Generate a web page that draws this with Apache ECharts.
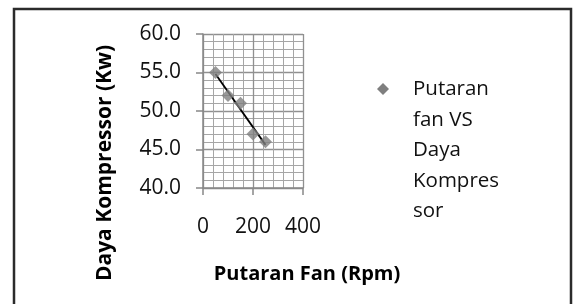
<!DOCTYPE html>
<html>
<head>
<meta charset="utf-8">
<script src="https://cdn.jsdelivr.net/npm/echarts@6/dist/echarts.min.js"></script>
<style>
  html, body { margin: 0; padding: 0; background: #fff; }
  #chart { width: 573px; height: 304px; }
</style>
</head>
<body>
<div id="chart"></div>
<script>
var rpm = [50, 100, 150, 200, 250];
var daya = [55, 52, 51, 47, 46];
var seriesName = 'Putaran\nfan VS\nDaya\nKompres\nsor';

// linear trendline (least squares) from the data
var n = rpm.length, sx = 0, sy = 0, sxy = 0, sxx = 0;
for (var i = 0; i < n; i++) {
    sx += rpm[i]; sy += daya[i]; sxy += rpm[i] * daya[i]; sxx += rpm[i] * rpm[i];
}
var slope = (n * sxy - sx * sy) / (n * sxx - sx * sx);
var icpt = (sy - slope * sx) / n;
var xFirst = rpm[0], xLast = rpm[n - 1];
var trend = [[xFirst, icpt + slope * xFirst], [xLast, icpt + slope * xLast]];

var pts = rpm.map(function (x, k) { return [x, daya[k]]; });

var chart = echarts.init(document.getElementById('chart'));
var option = {
    animation: false,
    textStyle: { fontFamily: 'Open Sans', color: '#000' },
    graphic: [
        {
            type: 'rect',
            shape: { x: 14, y: 9, width: 557, height: 310 },
            style: { fill: 'none', stroke: '#2b2b2b', lineWidth: 2.5 },
            silent: true
        },
        {
            type: 'text',
            x: 413, y: 74,
            style: { text: seriesName, font: '20.5px "Open Sans"', fill: '#111', lineHeight: 30.5 }
        },
        {
            type: 'polygon',
            shape: { points: [[383, 83], [389, 89], [383, 95], [377, 89]] },
            style: { fill: '#7f7f7f' }
        }
    ],
    grid: { left: 203, top: 34, width: 100, height: 154, outerBoundsMode: 'none', containLabel: false },
    xAxis: {
        type: 'value',
        min: 0, max: 400, interval: 200,
        name: 'Putaran Fan (Rpm)',
        nameLocation: 'middle',
        nameGap: 76,
        nameTextStyle: { fontSize: 20, fontWeight: 'bold', color: '#000', padding: [0, 0, 0, 108] },
        axisLine: { show: true, onZero: false, lineStyle: { color: '#888', width: 1.5 } },
        axisTick: { show: true, length: 7, inside: false, lineStyle: { color: '#888', width: 1.5 } },
        axisLabel: { fontSize: 21, color: '#111', margin: 29 },
        splitLine: { show: true, lineStyle: { color: '#909090', width: 1.3 } },
        minorTick: { show: false, splitNumber: 5 },
        minorSplitLine: { show: true, lineStyle: { color: '#a6a6a6', width: 1 } }
    },
    yAxis: {
        type: 'value',
        min: 40, max: 60, interval: 5,
        name: 'Daya Kompressor (Kw)',
        nameLocation: 'middle',
        nameGap: 87,
        nameTextStyle: { fontSize: 21, fontWeight: 'bold', color: '#000', padding: [0, 104, 0, 0] },
        axisLine: { show: true, onZero: false, lineStyle: { color: '#888', width: 1.5 } },
        axisTick: { show: true, length: 7, inside: false, lineStyle: { color: '#888', width: 1.5 } },
        axisLabel: { fontSize: 21, color: '#111', margin: 22, formatter: function (v) { return v.toFixed(1); } },
        splitLine: { show: true, lineStyle: { color: '#909090', width: 1.3 } },
        minorTick: { show: false, splitNumber: 5 },
        minorSplitLine: { show: true, lineStyle: { color: '#a6a6a6', width: 1 } }
    },
    series: [
        {
            name: 'trend',
            type: 'line',
            data: trend,
            symbol: 'none',
            lineStyle: { color: '#000', width: 1.8 },
            z: 3
        },
        {
            name: seriesName,
            type: 'scatter',
            data: pts,
            symbol: 'diamond',
            symbolSize: [13, 13],
            itemStyle: { color: '#7f7f7f' },
            z: 4
        }
    ]
};
chart.setOption(option);
</script>
</body>
</html>
